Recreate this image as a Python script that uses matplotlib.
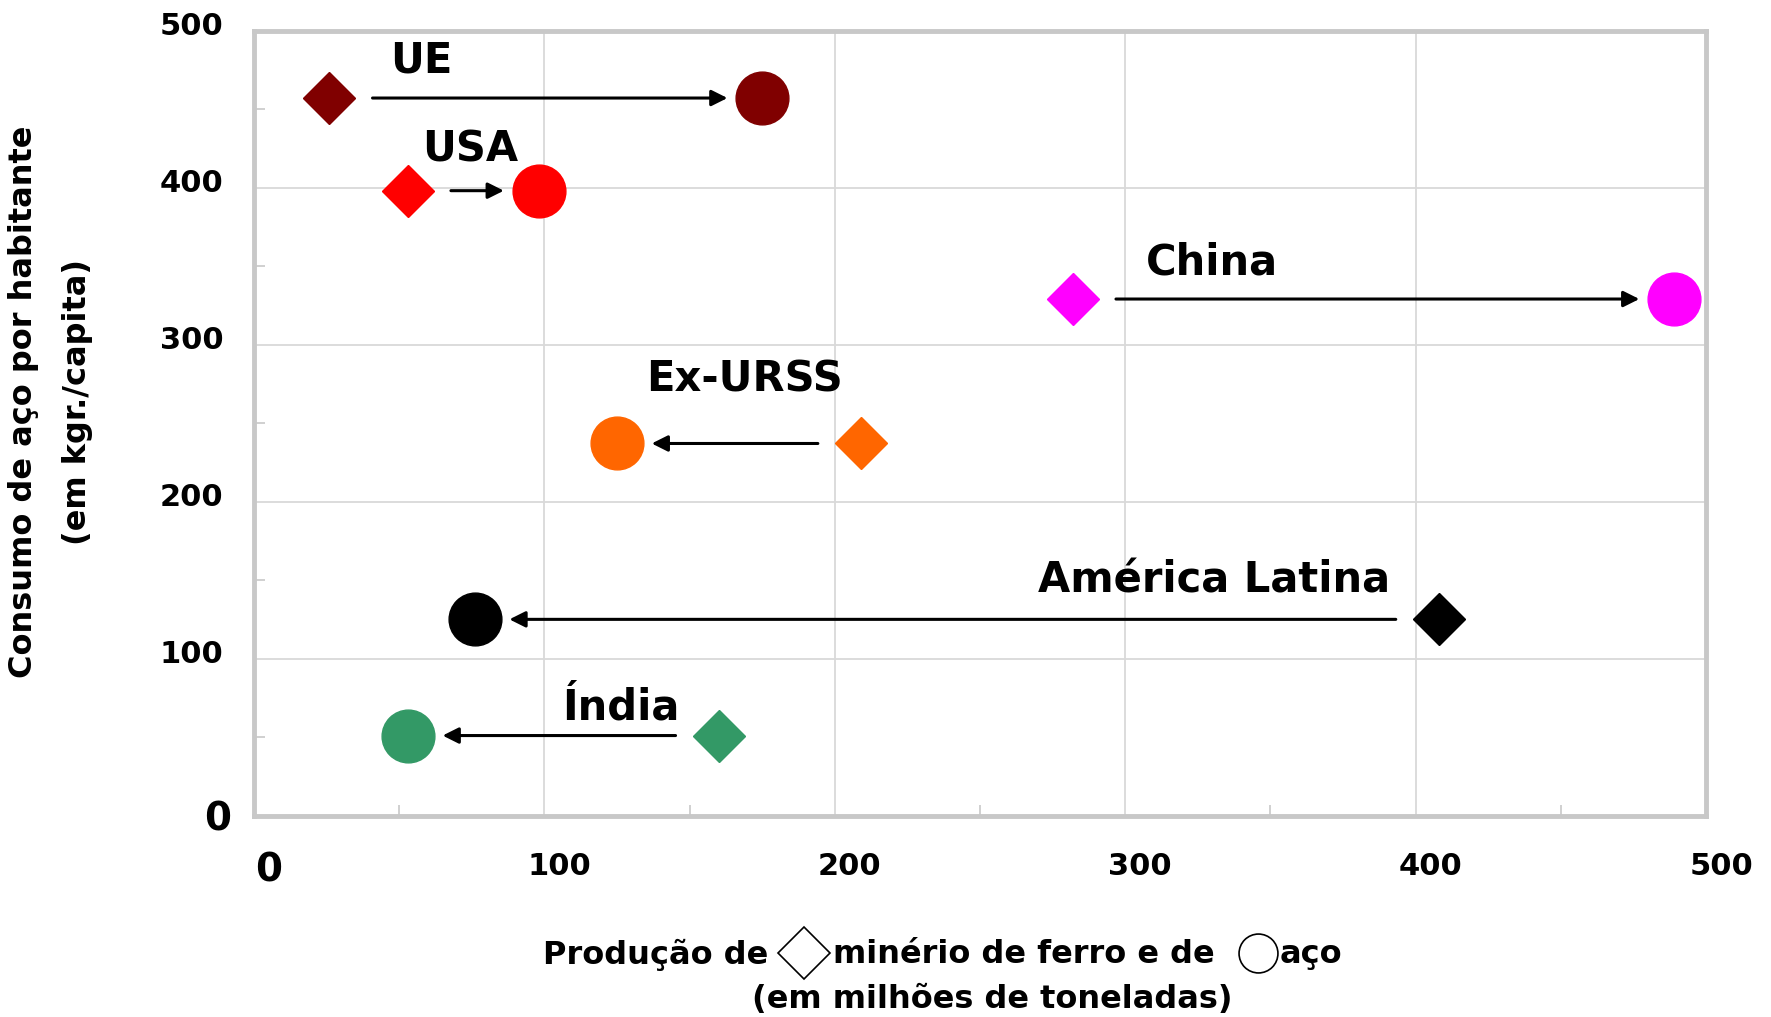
import matplotlib
matplotlib.use('Agg')
import matplotlib.pyplot as plt
import matplotlib.transforms as mtrans
from matplotlib.lines import Line2D

plt.rcParams['font.family'] = ['DejaVu Sans']
plt.rcParams['font.weight'] = 'bold'

# ---------------- data ----------------
regions = ['UE', 'USA', 'China', 'Ex-URSS', 'América Latina', 'Índia']
consumo = [457, 398, 329, 237, 125, 51]          # kg per capita
minerio = [26, 53, 282, 209, 408, 160]           # iron ore production (Mt)
aco = [175, 98, 489, 125, 76, 53]                # steel production (Mt)
colors = ['#800000', '#FF0000', '#FF00FF', '#FF6600', '#000000', '#339966']
label_x = [47, 58, 307, 135, 270, 106]
label_y = [481, 424, 352, 278, 150, 69]
ticks = [0, 100, 200, 300, 400, 500]
tick_labels = ['0', '100', '200', '300', '400', '500']

# ---------------- figure ----------------
fig = plt.figure(figsize=(17.71, 10.17), dpi=100)
ax = fig.add_axes([0.1434, 0.198, 0.8199, 0.772])
ax.set_xlim(0, 500)
ax.set_ylim(0, 500)

ax.set_xticks(ticks)
ax.set_xticklabels(tick_labels)
ax.set_yticks(ticks)
ax.set_yticklabels(tick_labels)
ax.set_xticks([50, 150, 250, 350, 450], minor=True)
ax.set_yticks([50, 150, 250, 350, 450], minor=True)
ax.grid(True, which='major', color='#D9D9D9', lw=1.3)
ax.set_axisbelow(True)
for s in ax.spines.values():
    s.set_color('#C8C8C8')
    s.set_linewidth(3.5)
ax.tick_params(which='minor', direction='in', color='#C8C8C8', length=8, width=1.2)
ax.tick_params(which='major', length=0)
ax.tick_params(axis='x', which='major', labelsize=22, pad=26)
ax.tick_params(axis='y', which='major', labelsize=22, pad=22)

dx = mtrans.ScaledTranslation(15 / 100, 0, fig.dpi_scale_trans)
dy = mtrans.ScaledTranslation(0, 7 / 100, fig.dpi_scale_trans)
d0 = mtrans.ScaledTranslation(8 / 100, 0, fig.dpi_scale_trans)
for i, t in enumerate(ax.xaxis.get_major_ticks()):
    t.label1.set_transform(t.label1.get_transform() + dx)
    if i == 0:
        t.label1.set_fontsize(28)
for i, t in enumerate(ax.yaxis.get_major_ticks()):
    if i == 0:
        t.label1.set_fontsize(28)
        t.label1.set_transform(t.label1.get_transform() + d0)
    else:
        t.label1.set_transform(t.label1.get_transform() + dy)

# markers
for i in range(len(regions)):
    ax.plot(minerio[i], consumo[i], marker='D', markersize=26, color=colors[i],
            linestyle='none', clip_on=False, zorder=3)
    ax.plot(aco[i], consumo[i], marker='o', markersize=38, color=colors[i],
            linestyle='none', clip_on=False, zorder=3)
    ax.annotate('', xy=(aco[i], consumo[i]), xytext=(minerio[i], consumo[i]),
                arrowprops=dict(arrowstyle='-|>', color='black', lw=2.2,
                                mutation_scale=24, shrinkA=31, shrinkB=25),
                zorder=2)
    ax.text(label_x[i], label_y[i], regions[i], fontsize=30, fontweight='bold',
            ha='left', va='center', zorder=4)

# y label (two lines)
fig.text(0.0135, 0.605, 'Consumo de aço por habitante', rotation=90,
         fontsize=23, fontweight='bold', ha='center', va='center')
fig.text(0.0440, 0.605, '(em kgr./capita)', rotation=90,
         fontsize=23, fontweight='bold', ha='center', va='center')

# x label with symbol pieces
fig.canvas.draw()
r = fig.canvas.get_renderer()
W, H = fig.bbox.width, fig.bbox.height
yl = 0.061
xfs = 23
t1 = fig.text(543 / W, yl, 'Produção de', fontsize=xfs, fontweight='bold',
              ha='left', va='center')
e1 = t1.get_window_extent(r).x1
cx = e1 + 11 + 25
fig.add_artist(Line2D([cx / W], [yl + 0.002], marker='D', markersize=26,
                      mfc='white', mec='black', mew=1.2, linestyle='none',
                      transform=fig.transFigure))
t2 = fig.text((cx + 25 + 4) / W, yl, 'minério de ferro e de', fontsize=xfs,
              fontweight='bold', ha='left', va='center')
e2 = t2.get_window_extent(r).x1
cx2 = e2 + 24 + 19
fig.add_artist(Line2D([cx2 / W], [yl + 0.002], marker='o', markersize=28,
                      mfc='white', mec='black', mew=1.2, linestyle='none',
                      transform=fig.transFigure))
fig.text((cx2 + 19 + 3) / W, yl, 'aço', fontsize=xfs, fontweight='bold',
         ha='left', va='center')
fig.text(0.560, 0.017, '(em milhões de toneladas)', fontsize=xfs,
         fontweight='bold', ha='center', va='center')

fig.savefig('out.png', dpi=100)
